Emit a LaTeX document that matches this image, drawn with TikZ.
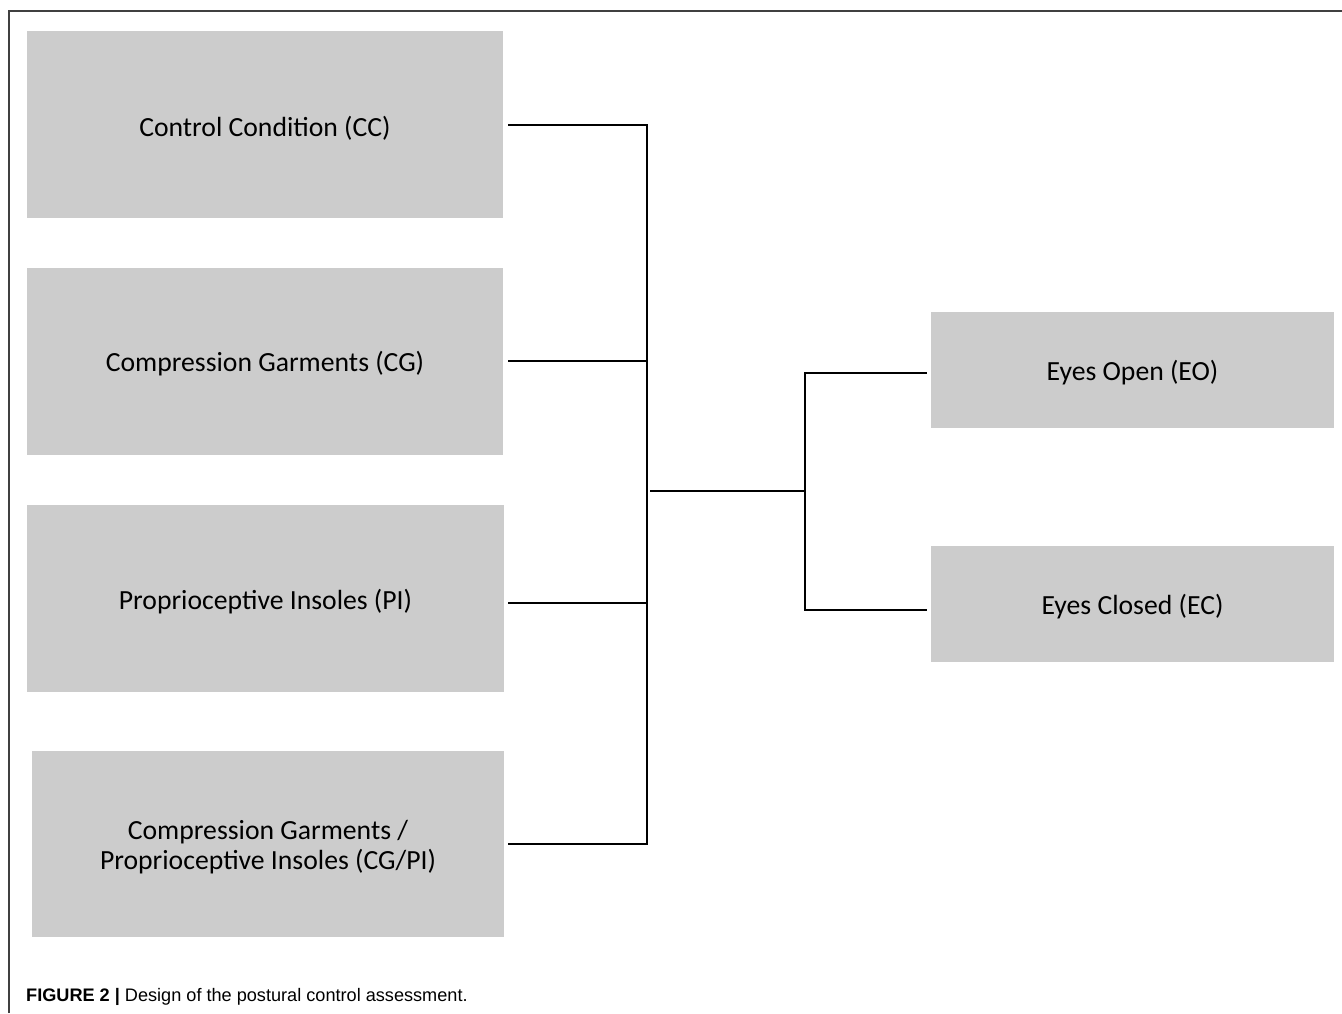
\documentclass[tikz,border=0pt]{standalone}
\usepackage{fontspec}
\setmainfont{Carlito}
\newfontfamily\capfont{Liberation Sans}
\definecolor{boxgray}{HTML}{CCCCCC}
\begin{document}
\begin{tikzpicture}[x=1bp,y=-1bp,
  gbox/.style={fill=boxgray,draw=none,inner sep=0pt,align=center,font=\fontsize{27.8}{30.5}\selectfont},
  conn/.style={draw=black,line width=1.6bp}]
\useasboundingbox (0,0) rectangle (1342,1013);
\draw[line width=1.3bp,draw=black!75] (9,1013) -- (9,11) -- (1342,11);
\node[gbox,minimum width=476bp,minimum height=187bp] (cc) at (265,124.5) {};
\node[gbox,minimum width=476bp,minimum height=187bp] (cg) at (265,361.5) {};
\node[gbox,minimum width=477bp,minimum height=187bp] (pi) at (265.5,598.5) {};
\node[gbox,minimum width=472bp,minimum height=186bp] (cgpi) at (268,844) {};
\node[gbox,minimum width=403bp,minimum height=116bp] (eo) at (1132.5,370) {};
\node[gbox,minimum width=403bp,minimum height=116bp] (ec) at (1132.5,604) {};
\node[gbox,fill=none] (cct) at (265,128) {Control Condition (CC)};
\node[gbox,fill=none] (cgt) at (265,364) {Compression Garments (CG)};
\node[gbox,fill=none] (pit) at (265.5,602) {Proprioceptive Insoles (PI)};
\node[gbox,fill=none] (cgpit) at (268,847) {Compression Garments /\\Proprioceptive Insoles (CG/PI)};
\node[gbox,fill=none] (eot) at (1132.5,373) {Eyes Open (EO)};
\node[gbox,fill=none] (ect) at (1132.5,607) {Eyes Closed (EC)};
\coordinate (v1t) at (647,125);
\coordinate (v1b) at (647,844);
\coordinate (m1) at (650,491);
\coordinate (m2) at (805,491);
\coordinate (v2t) at (805,373);
\coordinate (v2b) at (805,610);
\coordinate (h2) at (647,361);
\coordinate (h3) at (647,603);
\draw[conn] ([xshift=5bp]cc.east |- v1t) -- (v1t) -- (v1b) -- ([xshift=4bp]cgpi.east |- v1b);
\draw[conn] ([xshift=5bp]cg.east |- h2) -- (h2);
\draw[conn] ([xshift=4bp]pi.east |- h3) -- (h3);
\draw[conn] (m1) -- (m2);
\draw[conn] ([xshift=-4bp]eo.west |- v2t) -- (v2t) -- (v2b) -- ([xshift=-4bp]ec.west |- v2b);
\node[anchor=base west,inner sep=0pt,font=\capfont\fontsize{18.2}{20}\selectfont] (cap) at (26,1001) {\textbf{FIGURE 2 |} Design of the postural control assessment.};
\end{tikzpicture}
\end{document}
